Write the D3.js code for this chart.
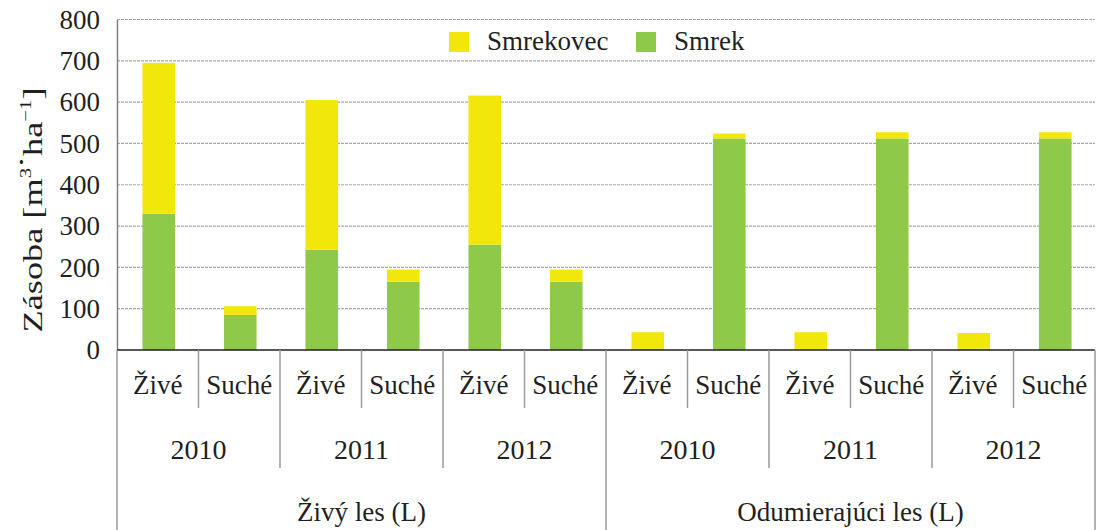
<!DOCTYPE html>
<html>
<head>
<meta charset="utf-8">
<script src="https://cdn.jsdelivr.net/npm/d3@7"></script>
<style>
  body { margin: 0; background: #fff; }
</style>
</head>
<body>
<svg id="chart" width="1096" height="530" style="font-family: 'Liberation Serif', serif;"></svg>
<script>
const groups = ["Živý les (L)", "Odumierajúci les (L)"];
const years = ["2010", "2011", "2012"];
const states = ["Živé", "Suché"];
const smrek = [330, 85, 243, 165, 255, 165, 3, 512, 1, 512, 3, 512];
const smrekovec = [365, 21, 362, 30, 361, 30, 40, 12, 42, 15, 38, 15];
const yTicks = [0, 100, 200, 300, 400, 500, 600, 700, 800];
const seriesNames = ["Smrekovec", "Smrek"];
const colors = { Smrek: "#8fc94a", Smrekovec: "#f2e70b" };
const font = "Liberation Serif";
const ink = "#231f20";

// flatten the three-level categories
const rows = [];
groups.forEach(g => years.forEach(yr => states.forEach(s => {
  const i = rows.length;
  rows.push({ id: i, group: g, year: yr, state: s, Smrek: smrek[i], Smrekovec: smrekovec[i] });
})));

const plotLeft = 117, plotRight = 1095, plotTop = 19.5, base = 350;
const svg = d3.select("#chart");

const x = d3.scaleBand().domain(rows.map(d => d.id)).range([plotLeft, plotRight]).padding(0);
const y = d3.scaleLinear().domain([0, 800]).range([base, plotTop]);
const barW = x.bandwidth() * 0.4;

// grid lines
svg.append("g")
  .selectAll("line")
  .data(yTicks.filter(t => t > 0))
  .enter().append("line")
  .attr("x1", plotLeft).attr("x2", plotRight)
  .attr("y1", d => y(d)).attr("y2", d => y(d))
  .attr("stroke", "#a8a8a8")
  .attr("stroke-width", 1.2)
  .attr("stroke-dasharray", "3,1");

// y axis
const yAxis = svg.append("g")
  .attr("transform", `translate(${plotLeft},0)`)
  .call(d3.axisLeft(y).tickValues(yTicks).tickSize(0).tickPadding(17));
yAxis.attr("font-family", font);
yAxis.select(".domain").attr("stroke", "#808080").attr("stroke-width", 1.5);
yAxis.selectAll("text")
  .style("font-size", "27px")
  .style("font-family", font)
  .attr("fill", ink);

// stacked bars
const stack = d3.stack().keys(["Smrek", "Smrekovec"]);
const layers = stack(rows);
svg.append("g").selectAll("g")
  .data(layers)
  .enter().append("g")
  .attr("fill", d => colors[d.key])
  .selectAll("rect")
  .data(d => d)
  .enter().append("rect")
  .attr("x", d => x(d.data.id) + x.bandwidth() / 2 - barW / 2 + 1)
  .attr("y", d => y(d[1]))
  .attr("width", barW)
  .attr("height", d => y(d[0]) - y(d[1]));

// baseline
svg.append("line")
  .attr("x1", plotLeft).attr("x2", plotRight)
  .attr("y1", base).attr("y2", base)
  .attr("stroke", ink).attr("stroke-width", 1.5);

// multi-level category axis
const step = x.step();
const sep = svg.append("g").attr("stroke", "#9a9a9a").attr("stroke-width", 1.5);
d3.range(0, rows.length + 1).forEach(i => {
  let y2 = 408;
  if (i % 6 === 0) y2 = 530;
  else if (i % 2 === 0) y2 = 468;
  sep.append("line")
    .attr("x1", plotLeft + i * step).attr("x2", plotLeft + i * step)
    .attr("y1", base).attr("y2", y2);
});

svg.append("g").selectAll("text")
  .data(rows)
  .enter().append("text")
  .attr("x", d => x(d.id) + x.bandwidth() / 2)
  .attr("y", 394)
  .attr("text-anchor", "middle")
  .attr("fill", ink)
  .style("font-family", font)
  .style("font-size", "27px")
  .text(d => d.state);

const yearRows = rows.filter((d, i) => i % 2 === 0);
svg.append("g").selectAll("text")
  .data(yearRows)
  .enter().append("text")
  .attr("x", d => x(d.id) + step)
  .attr("y", 459)
  .attr("text-anchor", "middle")
  .attr("fill", ink)
  .style("font-family", font)
  .style("font-size", "28px")
  .text(d => d.year);

svg.append("g").selectAll("text")
  .data(groups)
  .enter().append("text")
  .attr("x", (d, i) => plotLeft + (i * 6 + 3) * step)
  .attr("y", 521)
  .attr("text-anchor", "middle")
  .attr("fill", ink)
  .style("font-family", font)
  .style("font-size", "27px")
  .text(d => d);

// y title (stretched along its length like the original)
const title = svg.append("text")
  .attr("transform", "translate(42,210) rotate(-90)")
  .attr("text-anchor", "middle")
  .attr("textLength", 245)
  .attr("lengthAdjust", "spacingAndGlyphs")
  .attr("fill", ink)
  .style("font-family", font)
  .style("font-size", "28px");
title.append("tspan").text("Zásoba [m");
title.append("tspan").attr("dy", -11).style("font-size", "16px").text("3");
title.append("tspan").text("·");
title.append("tspan").attr("dy", 11).text("ha");
title.append("tspan").attr("dy", -11).style("font-size", "16px").text("−1");
title.append("tspan").attr("dy", 11).text("]");

// legend
const legend = svg.append("g");
const legendX = [449, 636];
seriesNames.forEach((name, i) => {
  legend.append("rect")
    .attr("x", legendX[i]).attr("y", 32)
    .attr("width", 20).attr("height", 20)
    .attr("fill", colors[name]);
  legend.append("text")
    .attr("x", legendX[i] + 38).attr("y", 50)
    .attr("fill", ink)
    .style("font-family", font)
    .style("font-size", "27px")
    .text(name);
});
</script>
</body>
</html>
